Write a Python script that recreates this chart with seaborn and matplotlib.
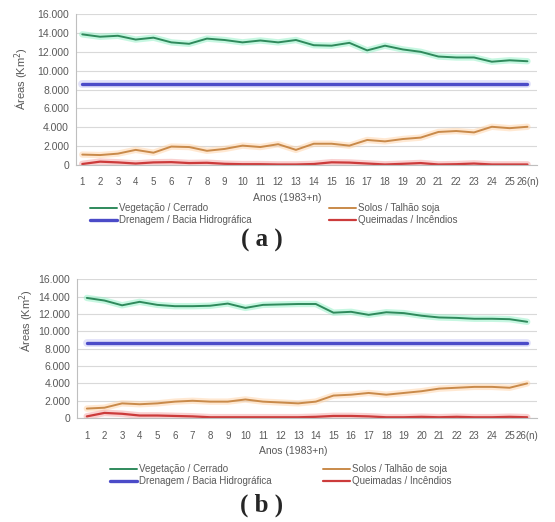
import numpy as np
import pandas as pd
import matplotlib
matplotlib.use("Agg")
import matplotlib.pyplot as plt
from matplotlib.ticker import FuncFormatter
import seaborn as sns

# anos (1983+n)
anos = list(range(1, 27))
x_labels = [str(n) for n in range(1, 26)] + ["26(n)"]

# painel (a)
veg_a = [13850, 13600, 13700, 13300, 13500, 13000, 12850, 13400, 13250, 13000,
         13200, 13000, 13250, 12700, 12650, 12950, 12150, 12650, 12250, 12000,
         11500, 11400, 11400, 10950, 11100, 11000]
dren_a = [8600] * 26
solos_a = [1100, 1050, 1200, 1600, 1300, 1950, 1900, 1500, 1700, 2050,
           1900, 2200, 1600, 2250, 2250, 2050, 2650, 2500, 2750, 2900,
           3500, 3600, 3450, 4050, 3900, 4050]
queim_a = [100, 350, 270, 150, 270, 300, 200, 230, 120, 80,
           80, 50, 50, 100, 280, 250, 150, 50, 120, 200,
           50, 80, 150, 50, 50, 50]

# painel (b)
veg_b = [13850, 13550, 13000, 13400, 13050, 12900, 12900, 12950, 13200, 12700,
         13050, 13100, 13150, 13150, 12150, 12250, 11900, 12200, 12100, 11800,
         11600, 11550, 11450, 11450, 11400, 11100]
dren_b = [8600] * 26
solos_b = [1100, 1200, 1700, 1600, 1700, 1900, 2000, 1900, 1900, 2150,
           1900, 1800, 1700, 1900, 2600, 2700, 2900, 2700, 2900, 3100,
           3400, 3500, 3600, 3600, 3500, 4000]
queim_b = [200, 600, 500, 300, 300, 250, 200, 100, 100, 100,
           100, 100, 100, 150, 250, 250, 200, 100, 100, 150,
           100, 150, 100, 100, 150, 100]

names_a = ["Vegetação / Cerrado", "Drenagem / Bacia Hidrográfica",
           "Solos / Talhão soja", "Queimadas / Incêndios"]
names_b = ["Vegetação / Cerrado", "Drenagem / Bacia Hidrográfica",
           "Solos / Talhão de soja", "Queimadas / Incêndios"]

core_colors = ["#2f8a5c", "#4b4bc8", "#c98a4a", "#cc3b3b"]
glow_colors = ["#8ef0c4", "#c4c4f5", "#ffd3a6", "#f5a3a3"]
core_widths = [1.4, 2.4, 1.4, 1.6]

sns.set_style("white")
plt.rcParams["font.family"] = ["Liberation Sans", "DejaVu Sans"]

fig = plt.figure(figsize=(5.55, 5.22), dpi=100)

gray = "#595959"


def draw_panel(rect, series, names, xlim, ylab_xy, xlab_xy, leg_xy, colspace, tag, tag_y):
    ax = fig.add_axes(rect)
    # linha clara por baixo (efeito "brilho") + linha principal
    for vals, name, cc, gc, lw in zip(series, names, core_colors, glow_colors, core_widths):
        sns.lineplot(x=anos, y=vals, ax=ax, color=gc, lw=lw + 3.2, alpha=0.5,
                     label="_nolegend_")
        sns.lineplot(x=anos, y=vals, ax=ax, color=cc, lw=lw, label=name)
    ax.set_ylim(0, 16000)
    ax.set_xlim(*xlim)
    ax.set_yticks(range(0, 16001, 2000))
    ax.yaxis.set_major_formatter(FuncFormatter(lambda v, p: f"{v:,.0f}".replace(",", ".")))
    ax.set_xticks(anos)
    ax.set_xticklabels(x_labels)
    ax.grid(axis="y", color="#d9d9d9", lw=0.8)
    ax.set_axisbelow(True)
    for s in ["top", "right"]:
        ax.spines[s].set_visible(False)
    for s in ["left", "bottom"]:
        ax.spines[s].set_color("#bfbfbf")
        ax.spines[s].set_linewidth(0.8)
    ax.tick_params(axis="y", length=3, color="#bfbfbf", labelsize=7.5, labelcolor=gray, pad=2)
    ax.tick_params(axis="x", length=0, labelsize=7, labelcolor=gray, pad=9)
    ax.set_xlabel("Anos (1983+n)", fontsize=7.5, color=gray)
    ax.set_ylabel("Áreas (Km$^2$)", fontsize=8, color=gray)
    ax.xaxis.set_label_coords(*xlab_xy)
    ax.yaxis.set_label_coords(*ylab_xy)
    ax.legend(loc="upper left", bbox_to_anchor=leg_xy, bbox_transform=fig.transFigure,
              ncol=2, frameon=False, fontsize=7, labelcolor=gray, handlelength=2.8,
              handletextpad=0.2, columnspacing=colspace, borderaxespad=0, borderpad=0,
              labelspacing=0.2)
    fig.text(0.472, tag_y, tag, ha="center", va="center", fontsize=18,
             fontweight="bold", family=["Liberation Serif", "DejaVu Serif"])
    return ax


draw_panel([0.137, 0.684, 0.831, 0.289], [veg_a, dren_a, solos_a, queim_a], names_a,
           (0.65, 26.55), (-0.098, 0.57), (0.458, -0.185), (0.162, 1 - 203 / 522), 7.9,
           "( a )", 1 - 240 / 522)
draw_panel([0.139, 0.199, 0.829, 0.266], [veg_b, dren_b, solos_b, queim_b], names_b,
           (0.45, 26.57), (-0.089, 0.70), (0.47, -0.2), (0.198, 1 - 464 / 522), 5.3,
           "( b )", 1 - 505 / 522)

fig.savefig("out.png", dpi=100, facecolor="white")
